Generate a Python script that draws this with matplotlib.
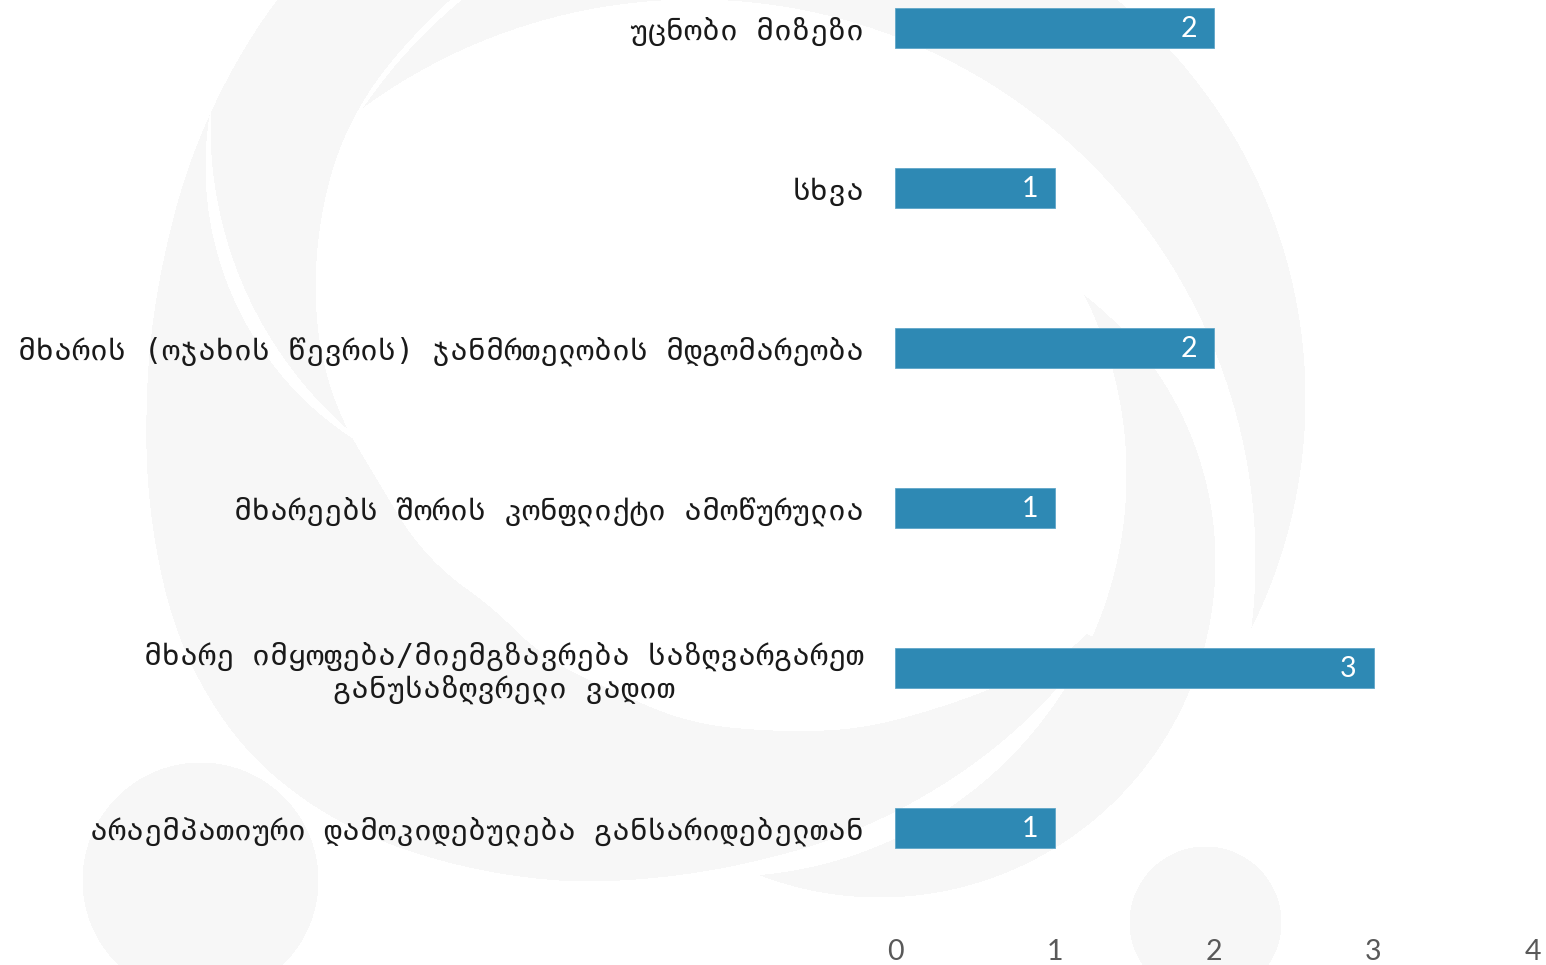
import numpy as np
import matplotlib
matplotlib.use("Agg")
import matplotlib.pyplot as plt

# =========================
# Data (top to bottom as shown)
# =========================
categories = [
    "უცნობი მიზეზი",
    "სხვა",
    "მხარის (ოჯახის წევრის) ჯანმრთელობის მდგომარეობა",
    "მხარეებს შორის კონფლიქტი ამოწურულია",
    "მხარე იმყოფება/მიემგზავრება საზღვარგარეთ\nგანუსაზღვრელი ვადით",
    "არაემპათიური დამოკიდებულება განსარიდებელთან",
]
counts = [2, 1, 2, 1, 3, 1]
x_ticks = [0, 1, 2, 3, 4]

bar_color = "#2E89B4"
W, H = 1546, 965

fig = plt.figure(figsize=(W / 100, H / 100), dpi=100)
fig.patch.set_facecolor("white")

# =========================
# Faint watermark logo in the background
# =========================
bg = fig.add_axes([0, 0, 1, 1], zorder=0)
yy, xx = np.mgrid[0:H, 0:W]


def inside(cx, cy, r):
    return (xx - cx) ** 2 + (yy - cy) ** 2 < r ** 2


def smooth_profile(t_pts, r_pts, win=25):
    grid = np.arange(90, 346, 1.0)
    r = np.interp(grid, t_pts, r_pts)
    pad = np.pad(r, win, mode="edge")
    r = np.convolve(pad, np.ones(win) / win, mode="same")[win:-win]
    return grid, r


# big C shape described in polar coords around (650, 430)
cx, cy = 650, 430
theta = np.degrees(np.arctan2(-(yy - cy), xx - cx)) % 360
rad = np.hypot(xx - cx, yy - cy)
g_out, r_out = smooth_profile([100, 131, 150, 168, 188, 210, 227, 245, 276, 297, 318, 335.5],
                              [640, 569, 530, 505, 503, 520, 510, 474, 440, 447, 467, 494])
g_in, r_in = smooth_profile([100, 115, 134, 152, 173, 190, 228, 263, 293, 318, 330, 335.5],
                            [520, 473, 431, 377, 321, 275, 235, 262, 324, 404, 461, 494], win=15)
in_range = (theta > 100) & (theta < 335)
big_c = in_range & (rad < np.interp(theta, g_out, r_out)) & (rad > np.interp(theta, g_in, r_in))

mask = big_c.copy()
mask &= ~(inside(530, 166, 325) & ~inside(613, 126, 403))   # thin white sliver
mask |= inside(789, 398, 516) & ~inside(694, 560, 561)      # top-right arc
mask |= inside(879, 561, 336) & ~inside(724, 474, 402)      # middle crescent
mask |= inside(200, 880, 118)                               # small circle left
mask |= inside(1205, 922, 76)                               # small circle right

img = np.ones((H, W, 3))
img[mask] = np.array([247, 247, 247]) / 255
bg.imshow(img, extent=[0, W, H, 0], aspect="auto", interpolation="nearest")
bg.set_xlim(0, W)
bg.set_ylim(H, 0)
bg.axis("off")

# =========================
# Bar chart
# =========================
ax = fig.add_axes([895 / W, (H - 908) / H, 638 / W, 960 / H], zorder=1)
ax.patch.set_alpha(0)

y_pos = np.arange(len(categories))
ax.barh(y_pos, counts, height=0.25, color=bar_color,
        edgecolor="#5FA6C9", linewidth=0.6)

for y, v in zip(y_pos, counts):
    ax.annotate(str(v), xy=(v, y), xytext=(-12, -1), textcoords="offset points",
                ha="right", va="center", color="white", fontsize=20.5, family="Lato")

ax.set_xlim(0, 4)
ax.set_ylim(len(categories) - 0.5, -0.5)
ax.set_xticks(x_ticks)
ax.set_xticklabels([str(t) for t in x_ticks], fontsize=20.5, color="#595959", family="Lato")
ax.set_yticks(y_pos)
ax.set_yticklabels(categories, fontsize=21.5, color="#1a1a1a", linespacing=1.15,
                   family=["DejaVu Sans Mono", "DejaVu Sans"])
for lbl in ax.get_yticklabels():
    lbl.set_multialignment("center")

ax.tick_params(axis="y", length=0, pad=22)
ax.tick_params(axis="x", length=0, pad=22)
for side in ["top", "right", "bottom", "left"]:
    ax.spines[side].set_visible(False)

plt.savefig("out.png", dpi=100)
plt.close()
